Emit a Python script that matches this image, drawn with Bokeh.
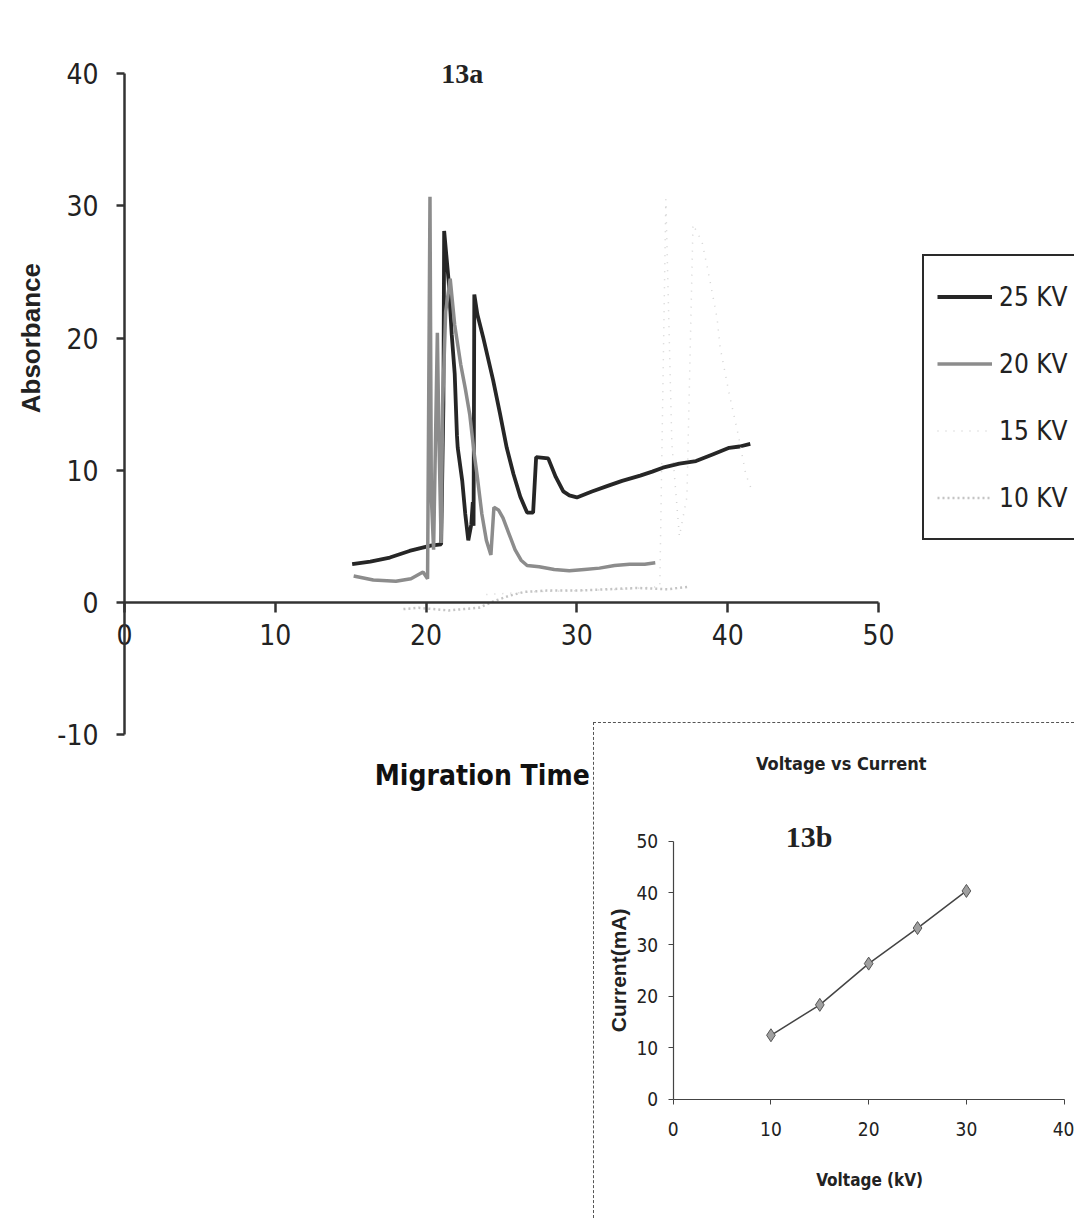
from math import pi
from bokeh.plotting import figure
from bokeh.models import Range1d, Label, Legend, LegendItem, FixedTicker, PrintfTickFormatter
from bokeh.layouts import column
from bokeh.embed import file_html
from bokeh.resources import INLINE

# ---------------- data ----------------
t25 = [15.1, 16.3, 17.6, 18.9, 20.3, 21.0, 21.15, 21.2, 21.5, 21.7, 21.9, 22.05, 22.1, 22.4,
       22.6, 22.8, 23.0, 23.1, 23.15, 23.2, 23.4, 23.8, 24.45, 24.9, 25.35, 25.8, 26.25,
       26.7, 27.1, 27.3, 28.1, 28.6, 29.1, 29.5, 30.0, 31.0, 32.0, 33.0, 34.2, 35.0, 35.7,
       36.8, 37.9, 39.0, 40.1, 40.8, 41.5]
a25 = [2.9, 3.1, 3.4, 3.9, 4.3, 4.4, 15.0, 28.1, 24.3, 20.3, 17.3, 12.6, 11.7, 9.2,
       6.7, 4.7, 5.9, 7.6, 5.8, 23.3, 21.8, 20.0, 16.8, 14.3, 11.7, 9.7, 8.0,
       6.8, 6.8, 11.0, 10.9, 9.5, 8.4, 8.1, 7.95, 8.4, 8.8, 9.2, 9.6, 9.9, 10.2,
       10.5, 10.7, 11.2, 11.7, 11.8, 12.0]

t20 = [15.2, 16.5, 18.0, 19.0, 19.8, 20.1, 20.18, 20.26, 20.35, 20.5, 20.75, 20.85, 21.0,
       21.1, 21.3, 21.6, 21.9, 22.3, 22.6, 22.9, 23.2, 23.4, 23.7, 24.0, 24.3, 24.5, 24.8,
       25.1, 25.5, 25.9, 26.3, 26.7, 27.5, 28.5, 29.5, 30.5, 31.5, 32.5, 33.5, 34.5, 35.2]
a20 = [2.0, 1.7, 1.6, 1.8, 2.3, 1.8, 16.2, 30.7, 8.0, 4.0, 20.4, 12.7, 4.5,
       15.0, 22.0, 24.5, 21.0, 18.0, 16.2, 14.2, 11.2, 9.5, 6.7, 4.7, 3.6, 7.2, 7.0,
       6.4, 5.2, 4.0, 3.2, 2.8, 2.7, 2.5, 2.4, 2.5, 2.6, 2.8, 2.9, 2.9, 3.0]

t15 = [24.0, 27.0, 30.0, 33.0, 35.5, 35.9, 36.3, 36.8, 37.3, 37.7, 38.3, 38.8, 39.3,
       39.5, 40.1, 40.7, 41.2, 41.6]
a15 = [0.6, 0.8, 0.9, 1.0, 1.2, 30.5, 12.0, 5.0, 8.0, 28.6, 27.3, 24.5, 21.5,
       19.3, 15.8, 12.7, 9.7, 8.5]

t10 = [18.5, 19.5, 20.5, 21.5, 22.5, 23.5, 24.5, 25.5, 26.5, 28.0, 30.0, 32.0, 34.0, 36.0, 37.5]
a10 = [-0.5, -0.4, -0.5, -0.6, -0.5, -0.4, 0.1, 0.5, 0.8, 0.9, 0.9, 1.0, 1.1, 1.0, 1.2]

series_labels = ["25 KV", "20 KV", "15 KV", "10 KV"]
x_ticks = [0, 10, 20, 30, 40, 50]
y_ticks = [-10, 0, 10, 20, 30, 40]

voltage = [10, 15, 20, 25, 30]
current = [12.4, 18.3, 26.3, 33.2, 40.4]
inset_x_ticks = [0, 10, 20, 30, 40]
inset_y_ticks = [0, 10, 20, 30, 40, 50]

NARROW = "'DejaVu Sans Condensed', 'Liberation Sans Narrow', sans-serif"
SANS = "'Liberation Sans', Arial, sans-serif"
SERIF = "'Liberation Serif', 'Times New Roman', serif"
AX = "#333333"

W, H = 1074, 1218

# ---------------- main chart (frame fills the canvas) ----------------
p = figure(width=W, height=H, x_range=Range1d(-8.22, 63.0), y_range=Range1d(-46.6, 45.54),
           output_backend="svg", toolbar_location=None,
           min_border_left=0, min_border_right=0, min_border_top=0, min_border_bottom=0)
p.outline_line_color = None
p.grid.visible = False

r25 = p.line(t25, a25, line_color="#262626", line_width=3.8)
r20 = p.line(t20, a20, line_color="#8c8c8c", line_width=3.5)
r15 = p.line(t15, a15, line_color="#d4d4d4", line_width=1.5, line_dash="1 7")
r10 = p.line(t10, a10, line_color="#c4c4c4", line_width=2.5, line_dash="2 3")

for ax in (p.xaxis[0], p.yaxis[0]):
    ax.fixed_location = 0
    ax.axis_line_color = AX
    ax.axis_line_width = 2.5
    ax.major_tick_line_color = AX
    ax.major_tick_line_width = 2.5
    ax.major_tick_in = 0
    ax.minor_tick_line_color = None
    ax.major_label_text_font = NARROW
    ax.major_label_text_font_size = "28px"
    ax.major_label_text_color = "#222222"
    ax.formatter = PrintfTickFormatter(format="%d")

p.xaxis.ticker = FixedTicker(ticks=x_ticks)
p.yaxis.ticker = FixedTicker(ticks=y_ticks)
p.xaxis.bounds = (0, 50)
p.yaxis.bounds = (-10, 40)
p.xaxis.major_tick_out = 10
p.xaxis.major_label_standoff = 12
p.yaxis.major_tick_out = 8
p.yaxis.major_label_standoff = 18

p.add_layout(Label(x=22.4, y=40, text="13a", text_font=SERIF, text_font_style="bold",
                   text_font_size="28px", text_align="center", text_baseline="middle",
                   text_color="#222222"))
p.add_layout(Label(x=-6.23, y=20, text="Absorbance", angle=pi / 2, text_font=SANS,
                   text_font_style="bold", text_font_size="26px", text_align="center",
                   text_baseline="middle", text_color="#222222"))
p.add_layout(Label(x=16.6, y=-13.1, text="Migration Time (min)", text_font=NARROW,
                   text_font_style="bold", text_font_size="28px", text_align="left",
                   text_baseline="middle", text_color="#111111"))

legend = Legend(items=[LegendItem(label=l, renderers=[r]) for l, r in
                       zip(series_labels, [r25, r20, r15, r10])],
                location=(922, 678), padding=13, spacing=12, glyph_width=55, glyph_height=55,
                label_height=55, label_standoff=7, margin=0,
                label_text_font=NARROW, label_text_font_size="26px", label_text_color="#222222",
                border_line_color="#2a2a2a", border_line_width=2.5, border_line_alpha=1.0,
                background_fill_color="white", background_fill_alpha=1.0)
p.add_layout(legend, "center")

# ---------------- inset chart (frame fills its canvas) ----------------
IW, IH = W - 593, H - 722
q = figure(width=IW, height=IH, x_range=Range1d(-8.05, 41.16), y_range=Range1d(-23.34, 72.88),
           output_backend="svg", toolbar_location=None,
           min_border_left=0, min_border_right=0, min_border_top=0, min_border_bottom=0,
           margin=(-IH, 0, 0, 593),
           styles={"border-left": "1px dashed #555555", "border-top": "1px dashed #555555"})
q.outline_line_color = None
q.grid.visible = False
q.line(voltage, current, line_color="#444444", line_width=1.5)
q.scatter(voltage, current, marker="diamond", size=13, fill_color="#a0a0a0",
          line_color="#555555", line_width=1)

for ax in (q.xaxis[0], q.yaxis[0]):
    ax.fixed_location = 0
    ax.axis_line_color = "#444444"
    ax.axis_line_width = 1.2
    ax.major_tick_line_color = "#444444"
    ax.major_tick_in = 0
    ax.major_tick_out = 5
    ax.minor_tick_line_color = None
    ax.major_label_text_font = NARROW
    ax.major_label_text_font_size = "19px"
    ax.major_label_text_color = "#222222"
q.xaxis.ticker = FixedTicker(ticks=inset_x_ticks)
q.yaxis.ticker = FixedTicker(ticks=inset_y_ticks)
q.xaxis.bounds = (0, 40)
q.yaxis.bounds = (0, 50)
q.xaxis.major_label_standoff = 18
q.yaxis.major_label_standoff = 10

q.add_layout(Label(x=20.1, y=-15.6, text="Voltage (kV)", text_font=NARROW,
                   text_font_style="bold", text_font_size="17px", text_align="center",
                   text_baseline="middle", text_color="#222222"))
q.add_layout(Label(x=-5.6, y=25.0, text="Current(mA)", angle=pi / 2, text_font=SANS,
                   text_font_style="bold", text_font_size="21px", text_align="center",
                   text_baseline="middle", text_color="#222222"))
q.add_layout(Label(x=17.2, y=65.1, text="Voltage vs Current", text_font=NARROW,
                   text_font_style="bold", text_font_size="18px", text_align="center",
                   text_baseline="middle", text_color="#222222"))
q.add_layout(Label(x=13.9, y=51.0, text="13b", text_font=SERIF, text_font_style="bold",
                   text_font_size="30px", text_align="center", text_baseline="middle",
                   text_color="#222222"))

layout = column(p, q)
open("out.html", "w").write(file_html(layout, INLINE))
